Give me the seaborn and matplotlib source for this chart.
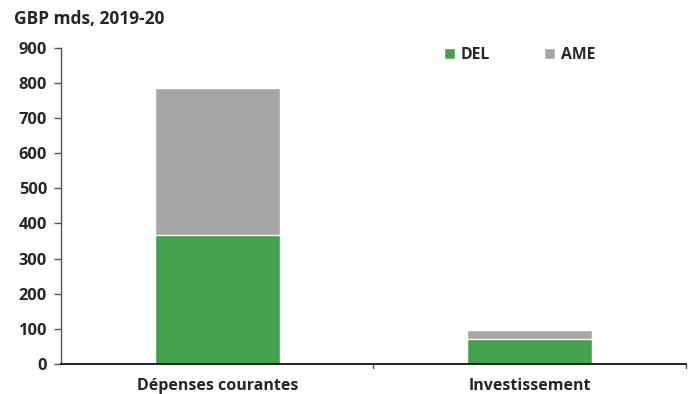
import matplotlib
matplotlib.use("Agg")
import matplotlib.pyplot as plt
import seaborn as sns
import pandas as pd

categories = ["Dépenses courantes", "Investissement"]
del_values = [368, 70]
ame_values = [417, 27]
series_names = ["DEL", "AME"]
y_ticks = [0, 100, 200, 300, 400, 500, 600, 700, 800, 900]

green = "#46A14F"
grey = "#A6A6A6"

sns.set_theme(style="white")
plt.rcParams["font.family"] = ["Open Sans", "DejaVu Sans"]

WEIGHT = "bold"

df = pd.DataFrame({
    "cat": categories,
    "DEL": del_values,
    "AME": ame_values,
})
df["total"] = df["DEL"] + df["AME"]

fig = plt.figure(figsize=(6.96, 3.94), dpi=100)
ax = fig.add_axes([0.0876, 0.0761, 0.898, 0.8033])

sns.barplot(data=df, x="cat", y="total", color=grey, width=0.4,
            saturation=1, ax=ax, label=series_names[1])
sns.barplot(data=df, x="cat", y="DEL", color=green, width=0.4,
            saturation=1, ax=ax, label=series_names[0])

ax.set_xlim(-0.5, 1.5)
ax.set_ylim(0, 900)
ax.set_yticks(y_ticks)
ax.set_xlabel("")
ax.set_ylabel("")

for side in ["top", "right"]:
    ax.spines[side].set_visible(False)
ax.spines["left"].set_color("#555555")
ax.spines["left"].set_linewidth(1.0)
ax.spines["bottom"].set_color("#000000")
ax.spines["bottom"].set_linewidth(1.2)

ax.tick_params(axis="y", which="both", left=True, length=5, width=1,
               color="#555555", labelsize=11.8, pad=5)
ax.tick_params(axis="x", bottom=False, labelsize=11.5, pad=4)
for lbl in ax.get_yticklabels() + ax.get_xticklabels():
    lbl.set_fontweight(WEIGHT)

# category separators on the x axis
for xpos in [0.5, 1.5]:
    ax.plot([xpos, xpos], [0, -12], color="#555555", lw=1, clip_on=False)

fig.text(0.02, 0.952, "GBP mds, 2019-20", fontsize=12.5, fontweight=WEIGHT,
         va="center", ha="left")

handles, labels = ax.get_legend_handles_labels()
order = [labels.index(n) for n in series_names]
leg = ax.legend([handles[i] for i in order], [labels[i] for i in order],
                loc="upper left", bbox_to_anchor=(0.59, 1.045), ncol=2,
                frameon=False, handlelength=0.7, handleheight=0.7,
                handletextpad=0.4, columnspacing=3.4,
                prop={"size": 11.3, "weight": WEIGHT})

fig.savefig("out.png", dpi=100)
